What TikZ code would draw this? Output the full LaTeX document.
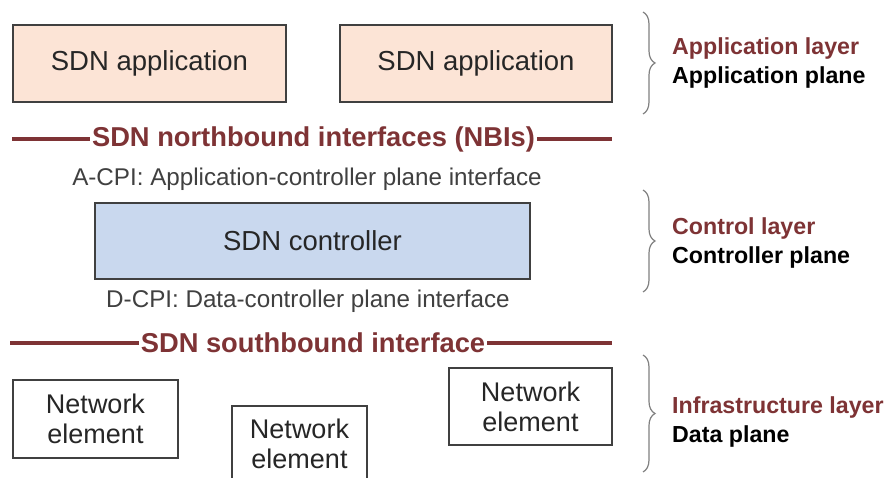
\documentclass[tikz,border=0pt]{standalone}
\usepackage{fontspec}
\setmainfont{Liberation Sans}
\usetikzlibrary{decorations.pathreplacing}

\definecolor{appfill}{HTML}{FCE4D6}
\definecolor{ctrlfill}{HTML}{C9D8EE}
\definecolor{ifcred}{HTML}{7E3335}
\definecolor{boxline}{HTML}{404040}
\definecolor{textgray}{HTML}{262626}

\begin{document}
\begin{tikzpicture}[x=1pt, y=-1pt]
		\tikzstyle {layer box} = [draw=boxline, line width=1.3pt, text=textgray, inner sep=0pt, font=\fontsize{27.5}{31}\selectfont]
		\tikzstyle {element} = [layer box, align=center, font=\fontsize{27}{30}\selectfont]
		\tikzstyle {interface} = [text=ifcred, font=\bfseries\fontsize{27.3}{31}\selectfont, inner sep=2pt]
		\tikzstyle {interface line} = [ifcred, line width=4pt]
		\tikzstyle {cpi} = [text=boxline, font=\fontsize{24.2}{28}\selectfont]
		\tikzstyle {layer brace} = [gray, line width=1.2pt, decorate, decoration={brace, amplitude=12pt}]
		\tikzstyle {layer name} = [anchor=base west, inner sep=0pt, text=ifcred, font=\bfseries\fontsize{23.2}{27}\selectfont]
		\tikzstyle {plane name} = [anchor=base west, inner sep=0pt, font=\bfseries\fontsize{23.2}{27}\selectfont]

		\useasboundingbox[fill=white] (0,0) rectangle (889,478);

		% application layer
		\node[layer box, fill=appfill, minimum width=273, minimum height=77] (app1) at (149.5,63.5) {SDN application};
		\node[layer box, fill=appfill, minimum width=272, minimum height=77] (app2) at (476,63.5) {SDN application};

		\node[interface] (nbi) at (313.5,139) {SDN northbound interfaces (NBIs)};
		\coordinate (nbi left) at (12,139);
		\coordinate (nbi right) at (612,139);
		\draw[interface line] (nbi left) -- (nbi.west);
		\draw[interface line] (nbi.east) -- (nbi right);

		\node[cpi] (acpi) at (307,179) {A-CPI: Application-controller plane interface};

		% control layer
		\node[layer box, fill=ctrlfill, minimum width=435, minimum height=76] (ctrl) at (312.5,241) {SDN controller};

		\node[cpi] (dcpi) at (308,301) {D-CPI: Data-controller plane interface};

		\node[interface] (sbi) at (313,343) {SDN southbound interface};
		\coordinate (sbi left) at (10,343);
		\coordinate (sbi right) at (612,343);
		\draw[interface line] (sbi left) -- (sbi.west);
		\draw[interface line] (sbi.east) -- (sbi right);

		% infrastructure layer
		\node[element, minimum width=165, minimum height=78] (ne1) at (95.5,419) {Network\\element};
		\node[element, minimum width=135, minimum height=76] (ne2) at (299.5,444) {Network\\element};
		\node[element, minimum width=163, minimum height=77] (ne3) at (530.5,406.5) {Network\\element};

		% braces and layer names
		\draw[layer brace] (643,12) -- (643,114);
		\draw[layer brace] (643,190) -- (643,292);
		\draw[layer brace] (643,355) -- (643,472);

		\node[layer name] (applayer) at (672,55) {Application layer};
		\node[plane name] (appplane) at (672,84) {Application plane};
		\node[layer name] (ctrllayer) at (672,235) {Control layer};
		\node[plane name] (ctrlplane) at (672,264) {Controller plane};
		\node[layer name] (infralayer) at (672,413) {Infrastructure layer};
		\node[plane name] (dataplane) at (672,442) {Data plane};
\end{tikzpicture}
\end{document}
